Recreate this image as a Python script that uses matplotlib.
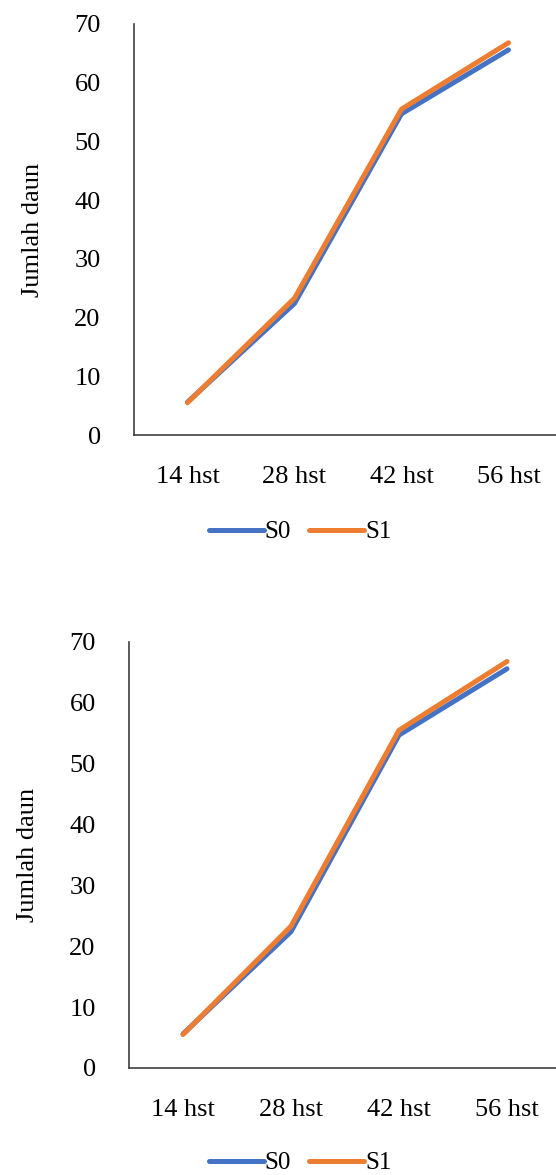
import matplotlib.pyplot as plt

# Jumlah daun per umur tanaman
umur = ['14 hst', '28 hst', '42 hst', '56 hst']
s0 = [5.6, 22.4, 54.7, 65.6]
s1 = [5.5, 23.3, 55.5, 66.8]
yticks = [0, 10, 20, 30, 40, 50, 60, 70]

plt.rcParams['font.family'] = ['Liberation Serif', 'DejaVu Serif']

W, H = 556, 1175
fig = plt.figure(figsize=(W / 100, H / 100), dpi=100)

# posisi panel (piksel): kiri, atas, kanan, bawah, posisi legenda y
panel = [(134, 24, 562, 435, 532), (129, 642, 561, 1068, 1163)]

for kiri, atas, kanan, bawah, leg_y in panel:
    ax = fig.add_axes([kiri / W, 1 - bawah / H, (kanan - kiri) / W, (bawah - atas) / H])
    x = range(len(umur))
    ax.plot(x, s0, color='#4472C4', lw=3.6, solid_capstyle='round', solid_joinstyle='round', label='S0')
    ax.plot(x, s1, color='#ED7D31', lw=3.6, solid_capstyle='round', solid_joinstyle='round', label='S1')
    ax.set_xlim(-0.5, 3.5)
    ax.set_ylim(0, 70)
    ax.set_xticks(list(x))
    ax.set_xticklabels(umur)
    ax.set_yticks(yticks)
    ax.tick_params(length=0, labelsize=19, colors='black', pad=22)
    ax.tick_params(axis='y', pad=24)
    for s in ['top', 'right']:
        ax.spines[s].set_visible(False)
    for s in ['left', 'bottom']:
        ax.spines[s].set_color('#404040')
        ax.spines[s].set_linewidth(1.2)
    ax.set_ylabel('Jumlah daun', fontsize=19, labelpad=22)
    fig.legend(handles=ax.get_lines(), loc='center', bbox_to_anchor=(300 / W, 1 - leg_y / H),
               ncol=2, frameon=False, fontsize=18, handlelength=2.2, columnspacing=0.7,
               handletextpad=0.05)

fig.savefig('out.png', dpi=100)
